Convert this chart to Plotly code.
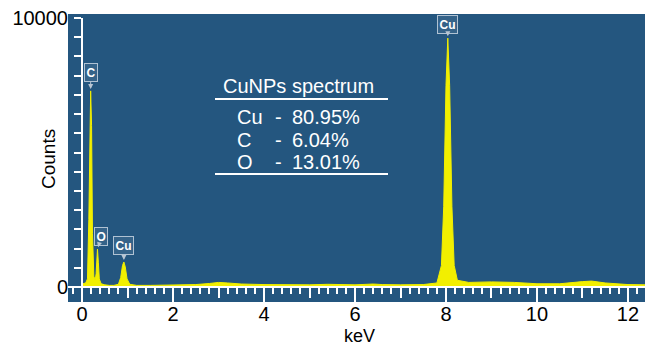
import plotly.graph_objects as go

# ---- data ----
energy_kev = [0.00, 0.02, 0.08, 0.12, 0.15, 0.17, 0.19, 0.21, 0.23, 0.26, 0.29, 0.31, 0.33, 0.34,
              0.36, 0.38, 0.42, 0.50, 0.60, 0.70, 0.80, 0.85, 0.89, 0.92, 0.95, 0.99, 1.05, 1.20,
              1.50, 2.00, 2.50, 2.80, 3.00, 3.20, 3.50, 4.00, 4.50, 5.00, 5.40, 5.60, 6.00, 6.40,
              6.60, 7.00, 7.50, 7.80, 7.90, 7.95, 8.00, 8.04, 8.08, 8.13, 8.18, 8.25, 8.50, 9.00,
              9.50, 10.00, 10.50, 11.00, 11.20, 11.50, 12.00, 12.40]
counts = [0, 120, 150, 300, 2500, 6000, 7290, 6000, 2000, 400, 250, 500, 1100, 1410,
          900, 300, 120, 80, 60, 60, 100, 350, 800, 930, 750, 300, 100, 60,
          60, 70, 90, 130, 170, 150, 110, 90, 80, 80, 100, 90, 80, 110,
          90, 80, 90, 150, 800, 3000, 7500, 9250, 7500, 3000, 800, 250, 170, 190,
          170, 120, 120, 200, 220, 150, 90, 80]

peak_labels = ["C", "O", "Cu", "Cu"]
peak_energy = [0.19, 0.34, 0.92, 8.04]
peak_counts = [7290, 1410, 930, 9250]
peak_ax = [0, 4, 0, 0]
peak_ay = [-18, -13, -16, -14]

legend_title = "CuNPs spectrum"
elements = ["Cu", "C", "O"]
percents = ["80.95%", "6.04%", "13.01%"]

x_tickvals = [0, 2, 4, 6, 8, 10, 12]
x_tick_mid = [1, 3, 5, 7, 9, 11]
y_tickvals = [i * 10000 / 14 for i in range(15)]
y_ticktext = ["0"] + [""] * 13 + ["10000"]

# ---- geometry ----
W, H = 647, 345
L, R, T, B = 68, 2, 18, 43
XR = [-0.308, 12.374]
YR = [-558, 10000]
pw, ph = W - L - R, H - T - B

def px(x):
    return (x - L) / pw

def py(y):
    return (H - B - y) / ph

BLUE = "#24567f"
YEL = "#f2ef00"
FONT = "Liberation Sans, Arial, sans-serif"

fig = go.Figure()
fig.add_trace(go.Scatter(x=energy_kev, y=counts, mode="lines", fill="tozeroy",
                         line=dict(color=YEL, width=1), fillcolor=YEL,
                         hoverinfo="skip", showlegend=False))
for xa in ("x2", "x3"):
    fig.add_trace(go.Scatter(x=[XR[0]], y=[YR[0]], xaxis=xa, mode="markers",
                             marker=dict(opacity=0), hoverinfo="skip", showlegend=False))

xpos = (0 - YR[0]) / (YR[1] - YR[0])
ypos = (0 - XR[0]) / (XR[1] - XR[0])

fig.update_layout(
    width=W, height=H, margin=dict(l=L, r=R, t=T, b=B, pad=0),
    paper_bgcolor="white", plot_bgcolor=BLUE,
    font=dict(family=FONT, color="black"),
    xaxis=dict(range=XR, anchor="free", position=xpos, showgrid=False, zeroline=False,
               showline=True, linecolor="white", linewidth=2,
               tickmode="array", tickvals=x_tickvals, ticks="outside", ticklen=14,
               tickwidth=2, tickcolor="white", showticklabels=False,
               minor=dict(tickmode="linear", tick0=0, dtick=0.2, ticks="outside",
                          ticklen=6, tickwidth=1.5, tickcolor="white", showgrid=False)),
    xaxis2=dict(range=XR, overlaying="x", anchor="free", position=xpos, showgrid=False,
                zeroline=False, showline=False, tickmode="array", tickvals=x_tick_mid,
                ticks="outside", ticklen=10, tickwidth=1.5, tickcolor="white",
                showticklabels=False),
    xaxis3=dict(range=XR, overlaying="x", anchor="free", position=xpos, showgrid=False,
                zeroline=False, showline=False, tickmode="array", tickvals=x_tickvals,
                ticks="outside", ticklen=9, tickwidth=1, tickcolor="rgba(0,0,0,0)",
                tickfont=dict(size=20, color="black")),
    yaxis=dict(range=YR, anchor="free", position=ypos, showgrid=False, zeroline=False,
               showline=True, linecolor="white", linewidth=2,
               tickmode="array", tickvals=y_tickvals, ticktext=y_ticktext,
               ticks="outside", ticklen=7, tickwidth=1.5, tickcolor="white",
               tickfont=dict(size=20, color="black"), ticklabelstandoff=2),
)

shapes = [
    dict(type="rect", xref="paper", yref="paper", x0=0, x1=1, y0=1, y1=py(14),
         fillcolor=BLUE, line=dict(width=0), layer="below"),
    dict(type="line", xref="paper", yref="paper", x0=px(215), x1=px(388), y0=py(99), y1=py(99),
         line=dict(color="white", width=2)),
    dict(type="line", xref="paper", yref="paper", x0=px(215), x1=px(388), y0=py(174), y1=py(174),
         line=dict(color="white", width=2)),
]
fig.update_layout(shapes=shapes)

ann = []
for lab, xe, yc, ax, ay in zip(peak_labels, peak_energy, peak_counts, peak_ax, peak_ay):
    ann.append(dict(x=xe, y=yc, xref="x", yref="y", text="<b>%s</b>" % lab,
                    showarrow=True, ax=ax, ay=ay, arrowhead=2, arrowsize=1, arrowwidth=1,
                    arrowcolor="#b9c6d3", standoff=2,
                    font=dict(size=12, color="white", family=FONT),
                    bgcolor="rgba(255,255,255,0.08)", bordercolor="rgba(200,212,225,0.85)",
                    borderwidth=1, borderpad=1.5))

def txt(x, y, s, size, color="white", xanchor="center", angle=0):
    return dict(x=px(x), y=py(y), xref="paper", yref="paper", text=s, showarrow=False,
                xanchor=xanchor, yanchor="middle", textangle=angle,
                font=dict(size=size, color=color, family=FONT))

ann.append(txt(298, 86, legend_title, 20))
row_y = [117, 139.5, 162]
for el, pc, ry in zip(elements, percents, row_y):
    ann.append(txt(235, ry, el, 20, xanchor="left"))
    ann.append(txt(278, ry, "-", 20))
    ann.append(txt(290, ry, pc, 20, xanchor="left"))

ann.append(txt(360, 336, "keV", 18, color="black"))
ann.append(txt(48, 159, "Counts", 19, color="black", angle=-90))
fig.update_layout(annotations=ann)

fig.write_html("out.html")
